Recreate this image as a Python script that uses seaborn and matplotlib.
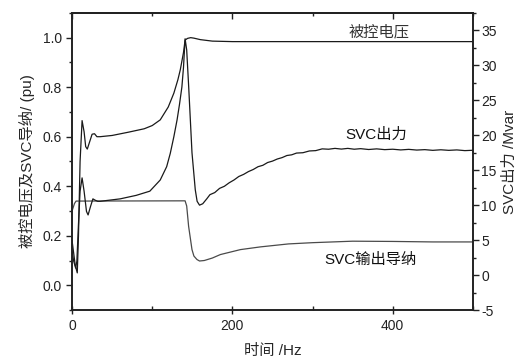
import numpy as np
import matplotlib
matplotlib.use('Agg')
import matplotlib.pyplot as plt
import pandas as pd
import seaborn as sns
from matplotlib.ticker import MultipleLocator

sns.set_style('ticks')
plt.rcParams['font.family'] = ['Liberation Sans', 'Noto Sans CJK SC', 'DejaVu Sans']
plt.rcParams['axes.unicode_minus'] = False

# 被控电压 (pu)
t_v = [0, 2, 4, 6.5, 8, 10, 12.5, 15, 17, 19, 22, 25, 28, 31, 35, 50, 70, 90, 100,
       110, 120, 127, 132, 135, 139, 141, 144, 148, 152, 160, 175, 200, 300, 400, 500]
v_v = [0.18, 0.13, 0.08, 0.05, 0.2, 0.5, 0.665, 0.62, 0.56, 0.55, 0.58, 0.61, 0.612, 0.6, 0.6,
       0.605, 0.618, 0.632, 0.645, 0.668, 0.72, 0.776, 0.83, 0.87, 0.94, 0.99, 0.997, 1.0,
       0.998, 0.992, 0.986, 0.984, 0.984, 0.984, 0.984]

# SVC出力 (Mvar)
t_q = [0, 2, 4.5, 6, 8, 10, 12.5, 15, 18, 20, 23, 26, 29, 32, 35, 60, 80, 97, 110, 118,
       122.5, 127, 131, 134, 137, 139, 141, 143, 145.5, 149.6, 153.7, 156, 159, 163,
       168, 172, 178, 184, 190, 196, 202, 208, 214, 220, 226, 232, 238, 244, 250, 256,
       262, 268, 274, 280, 288, 296, 304, 312, 320, 328, 336, 344, 352, 360, 370, 380,
       390, 400, 410, 420, 430, 440, 450, 460, 470, 480, 490, 500]
q_q = [3.4, 2.0, 1.0, 2.0, 7.3, 12.0, 13.9, 12.0, 9.1, 8.6, 9.8, 10.9, 10.7, 10.55, 10.55,
       10.9, 11.4, 12.0, 13.6, 15.5, 17.4, 19.8, 22.2, 24.4, 26.9, 29.7, 33.8, 32.2, 26.9,
       17.5, 12.2, 10.55, 10.0, 10.2, 10.9, 11.5, 11.8, 12.4, 12.7, 13.2, 13.6, 14.1, 14.4,
       14.8, 15.1, 15.5, 15.7, 16.1, 16.3, 16.6, 16.8, 17.1, 17.2, 17.45, 17.5, 17.75, 17.8,
       18.05, 18.0, 18.12, 18.02, 18.12, 18.0, 18.08, 17.96, 18.05, 17.94, 18.0, 17.9, 17.98,
       17.88, 17.94, 17.84, 17.92, 17.84, 17.9, 17.8, 17.85]

# SVC输出导纳 (pu)
t_b = [0, 3, 5, 141, 143, 145.4, 149.6, 152, 155.8, 159, 165, 175, 185, 210, 235, 270,
       300, 350, 400, 450, 500]
b_b = [0.3, 0.33, 0.34, 0.341, 0.32, 0.238, 0.144, 0.118, 0.104, 0.098, 0.1, 0.11, 0.124,
       0.144, 0.155, 0.167, 0.172, 0.178, 0.177, 0.175, 0.175]

fig = plt.figure(figsize=(5.26, 3.58), dpi=100)
ax = fig.add_axes([0.137, 0.134, 0.762, 0.830])
ax2 = ax.twinx()

sns.lineplot(x=t_v, y=v_v, ax=ax, color='#1a1a1a', lw=0.9, estimator=None)
sns.lineplot(x=t_b, y=b_b, ax=ax, color='#4a4a4a', lw=0.9, estimator=None)
sns.lineplot(x=t_q, y=q_q, ax=ax2, color='#1a1a1a', lw=0.9, estimator=None)

ax.set_xlim(0, 500)
ax.set_ylim(-0.1, 1.1)
ax2.set_ylim(-5, 37.5)

ax.xaxis.set_major_locator(MultipleLocator(200))
ax.xaxis.set_minor_locator(MultipleLocator(100))
ax.yaxis.set_minor_locator(MultipleLocator(0.1))
ax.set_yticks([0, 0.2, 0.4, 0.6, 0.8, 1.0])
ax.set_yticklabels(['0.0', '0.2', '0.4', '0.6', '0.8', '1.0'])
ax2.yaxis.set_major_locator(MultipleLocator(5))
ax2.yaxis.set_minor_locator(MultipleLocator(2.5))

ax.tick_params(axis='x', which='major', direction='inout', length=6, width=1, labelsize=10, colors='#222')
ax.tick_params(axis='x', which='minor', direction='in', length=3, width=1, colors='#222')
ax.tick_params(axis='y', which='major', direction='out', length=4, width=1, labelsize=10, colors='#222')
ax.tick_params(axis='y', which='minor', direction='out', length=2.5, width=1, colors='#222')
ax2.tick_params(axis='y', which='major', direction='out', length=4, width=1, labelsize=10, colors='#222', pad=2)
ax2.tick_params(axis='y', which='minor', direction='out', length=2.5, width=1, colors='#222')

top = ax.secondary_xaxis('top')
top.xaxis.set_major_locator(MultipleLocator(200))
top.xaxis.set_minor_locator(MultipleLocator(100))
top.tick_params(which='major', direction='in', length=4, width=1, labeltop=False, colors='#222')
top.tick_params(which='minor', direction='in', length=2.5, width=1, colors='#222')
top.spines['top'].set_linewidth(1.2)

for a in (ax, ax2):
    for s in a.spines.values():
        s.set_linewidth(1.2)
        s.set_color('#222')

ax.set_xlabel('时间 /Hz', fontsize=11, labelpad=8)
ax.set_ylabel('被控电压及SVC导纳/ (pu)', fontsize=11, labelpad=5)
ax2.set_ylabel('SVC出力 /Mvar', fontsize=11, labelpad=4)

ax.text(383, 1.024, '被控电压', fontsize=11, ha='center', va='center', color='#333')
ax.text(380, 0.608, 'SVC出力', fontsize=11, ha='center', va='center', color='#111')
ax.text(372, 0.104, 'SVC输出导纳', fontsize=11, ha='center', va='center', color='#111')

fig.savefig('out.png', dpi=100)
